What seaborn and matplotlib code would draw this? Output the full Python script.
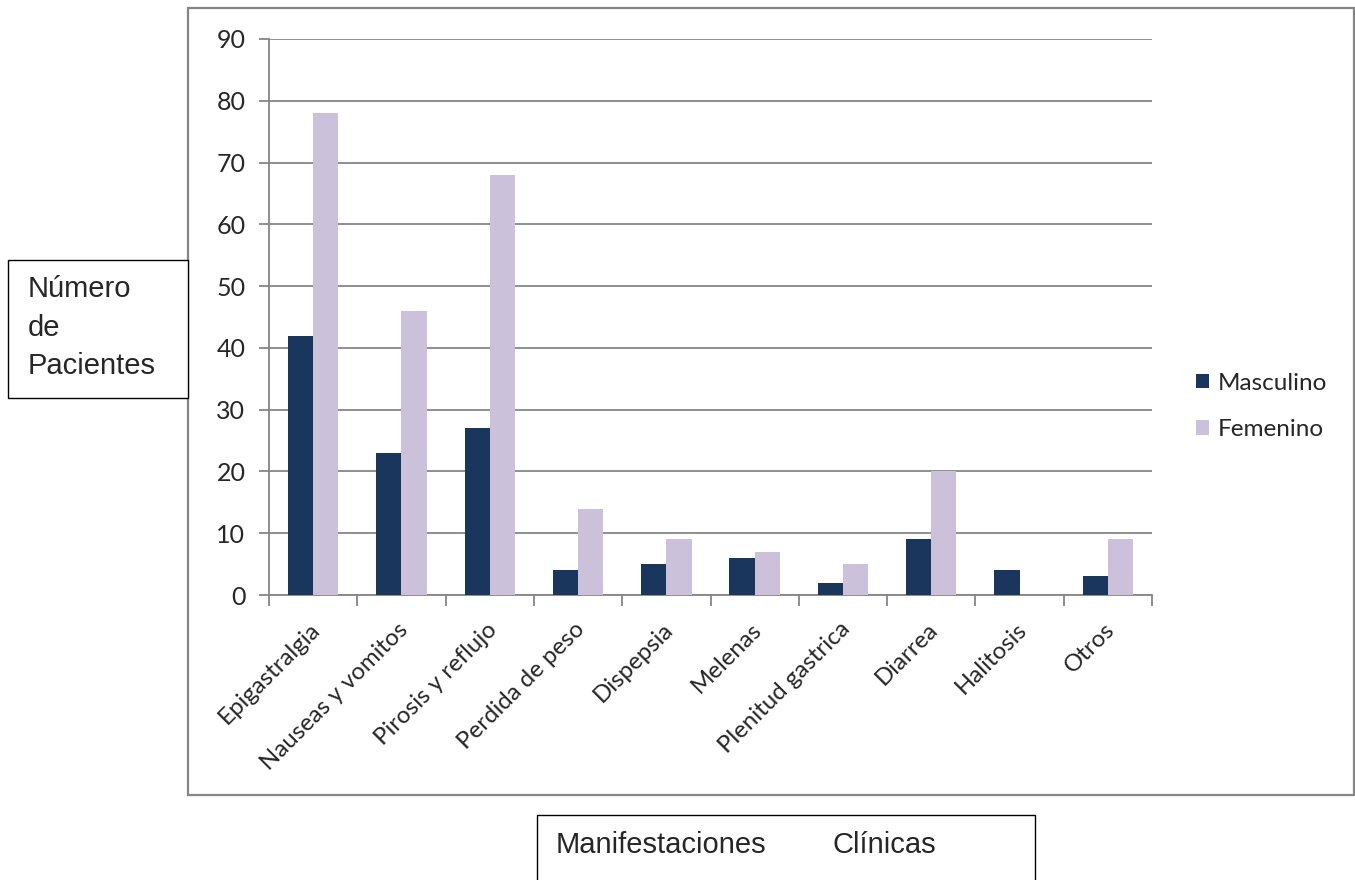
import numpy as np
import pandas as pd
import seaborn as sns
import matplotlib
matplotlib.use("Agg")
import matplotlib.pyplot as plt
from matplotlib.patches import Rectangle, Patch
from matplotlib.transforms import ScaledTranslation

# Manifestaciones clínicas por sexo
categorias = ["Epigastralgia", "Nauseas y vomitos", "Pirosis y reflujo",
              "Perdida de peso", "Dispepsia", "Melenas", "Plenitud gastrica",
              "Diarrea", "Halitosis", "Otros"]
masculino = [42, 23, 27, 4, 5, 6, 2, 9, 4, 3]
femenino = [78, 46, 68, 14, 9, 7, 5, 20, 0, 9]
series = ["Masculino", "Femenino"]
y_ticks = [0, 10, 20, 30, 40, 50, 60, 70, 80, 90]

colores = {"Masculino": "#1B365D", "Femenino": "#CCC1DA"}
gris = "#868686"

df = pd.DataFrame({
    "categoria": categorias * 2,
    "valor": masculino + femenino,
    "sexo": [series[0]] * len(categorias) + [series[1]] * len(categorias),
})

sns.set_theme(style="white")
plt.rcParams["font.family"] = ["Lato", "DejaVu Sans"]

W, H = 1355, 880
fig = plt.figure(figsize=(W / 100, H / 100), dpi=100)
fig.patch.set_facecolor("white")

def fx(px):
    return px / W

def fy(py):
    return 1 - py / H

ax = fig.add_axes([fx(269), fy(595), fx(1152) - fx(269), fy(39) - fy(595)])

sns.barplot(data=df, x="categoria", y="valor", hue="sexo", order=categorias,
            hue_order=series, palette=colores, width=0.57, dodge=True,
            gap=0, saturation=1, errorbar=None, ax=ax, legend=False,
            linewidth=0, zorder=3)

ax.set_ylim(0, 90)
ax.set_xlim(-0.5, len(categorias) - 0.5)
ax.set_yticks(y_ticks)
ax.set_xlabel("")
ax.set_ylabel("")

ax.yaxis.grid(True, color=gris, linewidth=1.3, zorder=0)
ax.set_axisbelow(True)
for s in ["top", "right"]:
    ax.spines[s].set_visible(False)
for s in ["left", "bottom"]:
    ax.spines[s].set_color(gris)
    ax.spines[s].set_linewidth(1.3)

ax.tick_params(axis="y", which="major", direction="out", length=7, width=1.3,
               color=gris, labelsize=18, pad=10, left=True)
ax.set_xticks(np.arange(len(categorias)))
ax.set_xticks(np.arange(len(categorias) + 1) - 0.5, minor=True)
ax.tick_params(axis="x", which="major", length=0, pad=17)
ax.tick_params(axis="x", which="minor", direction="out", length=8, width=1.3,
               color=gris, bottom=True)
ax.set_xticklabels(categorias, rotation=45, ha="right",
                   rotation_mode="anchor", fontsize=17.3)
for lbl in ax.get_xticklabels():
    lbl.set_transform(lbl.get_transform() +
                      ScaledTranslation(-0.04, 0, fig.dpi_scale_trans))

# Leyenda
handles = [Patch(facecolor=colores[s], edgecolor="none", label=s) for s in series]
fig.legend(handles=handles, loc="upper left",
           bbox_to_anchor=(fx(1186), fy(363)), frameon=False, fontsize=17.5,
           handlelength=0.55, handleheight=0.55, handletextpad=0.35,
           labelspacing=1.05, borderaxespad=0)

# Marco exterior del gráfico
fig.patches.append(Rectangle((fx(188), fy(795)), fx(1354) - fx(188),
                             fy(8) - fy(795), transform=fig.transFigure,
                             fill=False, edgecolor=gris, linewidth=1.6,
                             zorder=0))

# Cuadro del eje vertical
fig.patches.append(Rectangle((fx(8), fy(398)), fx(188) - fx(8),
                             fy(260) - fy(398), transform=fig.transFigure,
                             facecolor="white", edgecolor="black",
                             linewidth=1.0, zorder=5))
for txt, py in [("Número", 297), ("de", 336), ("Pacientes", 374)]:
    fig.text(fx(28), fy(py), txt, fontsize=21, family="Liberation Sans",
             ha="left", va="baseline", zorder=6)

# Cuadro del eje horizontal
fig.patches.append(Rectangle((fx(537), fy(885)), fx(1035) - fx(537),
                             fy(815) - fy(885), transform=fig.transFigure,
                             facecolor="white", edgecolor="black",
                             linewidth=1.0, zorder=5, clip_on=False))
fig.text(fx(556), fy(853), "Manifestaciones", fontsize=21,
         family="Liberation Sans", ha="left", va="baseline", zorder=6)
fig.text(fx(832), fy(853), "Clínicas", fontsize=21,
         family="Liberation Sans", ha="left", va="baseline", zorder=6)

fig.savefig("out.png", dpi=100, facecolor="white")
